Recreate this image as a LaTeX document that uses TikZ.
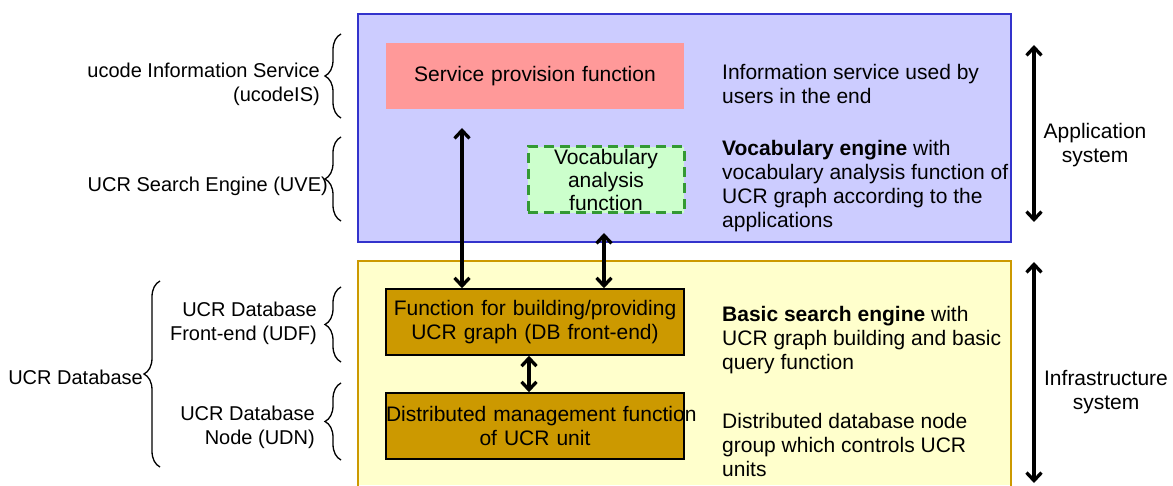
\documentclass[tikz,border=0pt]{standalone}
\usepackage{xcolor}
\usepackage{fontspec}
\setmainfont{Liberation Sans}
\usepackage{tikz}
\usetikzlibrary{positioning,shapes,arrows.meta,decorations.pathreplacing}

\definecolor{appfill}{HTML}{CCCCFF}
\definecolor{appline}{HTML}{3333CC}
\definecolor{infrafill}{HTML}{FFFFCC}
\definecolor{infraline}{HTML}{CC9900}
\definecolor{svcfill}{HTML}{FF9999}
\definecolor{vocfill}{HTML}{CCFFCC}
\definecolor{vocline}{HTML}{339933}
\definecolor{dbfill}{HTML}{CC9900}

\begin{document}
\begin{tikzpicture}[x=1pt, y=1pt,
          every node/.style = {font=\fontsize{21}{24}\selectfont,
            align=center, inner sep=0pt},
          funcbox/.style = {text width=298pt, minimum height=66pt},
          dbbox/.style = {funcbox, draw=black, line width=1.5pt, fill=dbfill},
          sidelabel/.style = {anchor=east, align=right,
            font=\fontsize{20}{24}\selectfont},
          desc/.style = {anchor=west, align=left},
          updown/.style = {line width=3.3pt,
            {Straight Barb[length=8pt,width=15pt]}-{Straight Barb[length=8pt,width=15pt]}},
          curly/.style = {line width=1.3pt, decorate,
            decoration={brace, amplitude=16pt}}]
          \useasboundingbox (0,0) rectangle (1173,485);

          % layers
          \draw[fill=appfill, draw=appline, line width=2.5pt]
            (358,243) rectangle (1011,471);
          \fill[infrafill] (358,0) rectangle (1011,224);
          \draw[infraline, line width=2.5pt] (358,-2) |- (1011,224) -- (1011,-2);

          % function boxes
          \node[funcbox, fill=svcfill] (svc) at (535,409)
            {Service provision function};
          \node[draw=vocline, fill=vocfill, line width=3pt,
            dash pattern=on 10pt off 6pt, minimum width=156pt,
            minimum height=66pt, font=\fontsize{21}{23}\selectfont] (voc) at (606,305)
            {Vocabulary\\analysis\\function};
          \node[dbbox] (fbuild) at (535,163)
            {Function for building/providing\\UCR graph (DB front-end)};
          \node[dbbox] (fdist) at (535,59)
            {\mbox{Distributed management function}\\of UCR unit};

          % descriptions
          \node[desc] (dsvc) at (722,401)
            {Information service used by\\users in the end};
          \node[desc] (dvoc) at (722,299)
            {\textbf{Vocabulary engine} with\\vocabulary analysis function of\\UCR graph according to the\\applications};
          \node[desc] (dbuild) at (722,145)
            {\textbf{Basic search engine} with\\UCR graph building and basic\\query function};
          \node[desc] (ddist) at (722,40)
            {Distributed database node\\group which controls UCR\\units};

          % connectors
          \coordinate (svcend) at (462,357);
          \coordinate (vocend) at (604,252);
          \draw[updown] (svcend) -- (svcend |- fbuild.north);
          \draw[updown] (vocend) -- (vocend |- fbuild.north);
          \draw[updown] ([xshift=-6pt]fdist.north) -- ([xshift=-6pt]fbuild.south);

          % system ranges
          \coordinate (apptop) at (1034,440);
          \coordinate (appbot) at (1034,263);
          \coordinate (infratop) at (1034,223);
          \coordinate (infrabot) at (1034,2);
          \draw[updown] (apptop) -- (appbot);
          \draw[updown] (infratop) -- (infrabot);
          \node (appsys) at (1095,340) {Application\\system};
          \node (infrasys) at (1106,93) {Infrastructure\\system};

          % left side
          \draw[curly] (341,367) -- (341,451);
          \draw[curly] (341,264) -- (341,348);
          \draw[curly] (341,123) -- (341,198);
          \draw[curly] (341,25) -- (341,102);
          \draw[curly] (160,18) -- (160,204);
          \node[sidelabel] (ucodeis) at (320,401)
            {ucode Information Service\\(ucodeIS)};
          \node[sidelabel] (uve) at (328,299) {UCR Search Engine (UVE)};
          \node[sidelabel] (udf) at (317,162) {UCR Database\\Front-end (UDF)};
          \node[sidelabel] (udn) at (315,58) {UCR Database\\Node (UDN)};
          \node[sidelabel] (ucrdb) at (143,108) {UCR Database};
        \end{tikzpicture}
\end{document}
